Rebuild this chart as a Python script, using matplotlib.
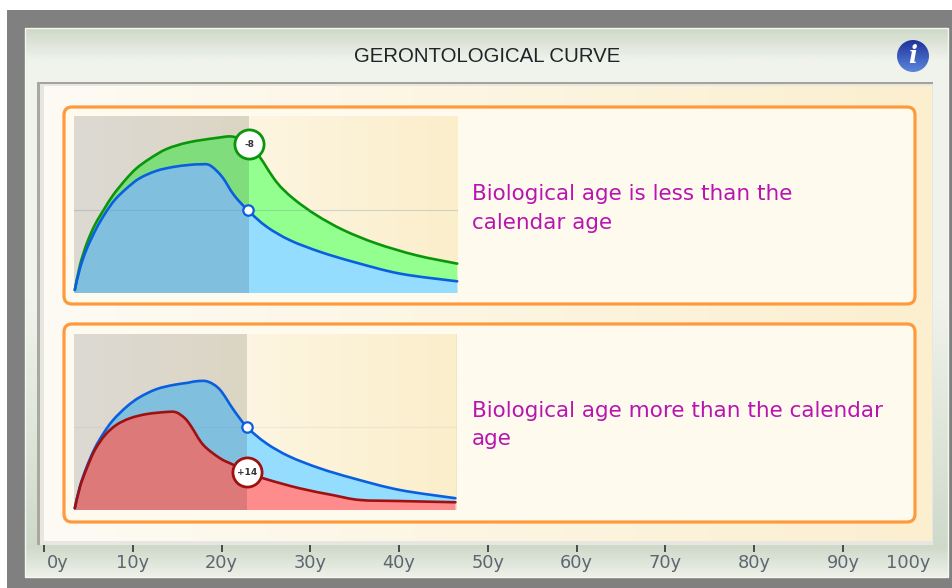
#!/usr/bin/env python3

import matplotlib
matplotlib.use('Agg')
import matplotlib.pyplot as plt
from matplotlib.patches import Circle, FancyBboxPatch, PathPatch, Rectangle
from matplotlib.path import Path
import numpy as np

W, H = 953, 588

TITLE = "GERONTOLOGICAL CURVE"
AGE_TICKS = [0, 10, 20, 30, 40, 50, 60, 70, 80, 90]
AGE_LABELS = ["0y", "10y", "20y", "30y", "40y", "50y", "60y", "70y", "80y", "90y", "100y"]

# top chart
top_green_x = [0.1, 0.75, 1.6, 2.6, 3.7, 4.9, 6.4, 7.8, 9.5, 11.6, 14.3, 17.8, 19.9, 21.8, 23.2, 25.3, 27.4, 30.3, 33.7, 37.8, 42.8, 47.9]
top_green_y = [1.7, 15.8, 28, 38.4, 46.9, 55.4, 63.8, 70.4, 76, 81.4, 85.1, 87.6, 88.3, 84.5, 77, 62.8, 53.4, 44, 35.5, 28, 21.3, 16.6]
top_blue_x = [0.1, 0.75, 1.6, 2.8, 3.9, 5.1, 6.6, 8.2, 10.3, 12.4, 14.3, 15.8, 17, 18.5, 20, 21.8, 24.1, 27, 30.8, 35, 40.8, 47.9]
top_blue_y = [1.7, 14, 25, 36.5, 45, 52.6, 59.2, 64.8, 69, 71.2, 72.3, 72.7, 72.1, 65.7, 55.3, 46.4, 37.4, 29.8, 23.2, 17.5, 10.9, 6.6]

# bottom chart
bot_blue_x = [0.1, 0.75, 1.6, 2.6, 3.7, 4.9, 6.6, 8.2, 10.3, 12.4, 14.3, 15.4, 16.8, 18.3, 20, 21.7, 24.1, 27, 30.8, 35, 40.8, 47.8]
bot_blue_y = [1, 13.5, 24.6, 35, 43.6, 51.1, 58.7, 64, 68.6, 71, 72.3, 73.2, 72.9, 68.3, 56.9, 47, 37.9, 30.4, 23.7, 18, 11.4, 6.7]
bot_red_x = [0.1, 0.75, 1.6, 2.6, 3.9, 5.3, 7, 9.1, 11.6, 12.8, 13.9, 14.7, 16.2, 18.3, 20, 21.7, 24.1, 28.3, 32.4, 35.8, 40.8, 47.8]
bot_red_y = [1, 13.2, 23.7, 34, 42.6, 48.3, 52.1, 54.5, 55.7, 55.5, 52.1, 47.4, 37, 29.4, 25.6, 21.4, 17.5, 12.3, 8.5, 5.7, 5.1, 4.4]

TEXT_COLOR = '#B815B0'
ORANGE = '#FF9A3C'
GREEN, GREEN_FILL = '#0A960A', '#92FF8E'
BLUE, BLUE_FILL = '#0A5FE0', '#94DDFF'
RED, RED_FILL = '#A01010', '#FF8C8C'


def gradient(ax, extent, c0, c1, horizontal=True, zorder=0):
    c0 = np.array(matplotlib.colors.to_rgb(c0))
    c1 = np.array(matplotlib.colors.to_rgb(c1))
    t = np.linspace(0, 1, 256)[:, None]
    img = c0 + (c1 - c0) * t
    img = img[None, :, :] if horizontal else img[:, None, :]
    return ax.imshow(img, extent=extent, aspect='auto', zorder=zorder, interpolation='bilinear')


def curve_verts(xs, ys):
    # bezier pieces through the read points, no extra values
    p = np.column_stack([xs, ys])
    verts, codes = [p[0]], [Path.MOVETO]
    for i in range(len(p) - 1):
        a = p[max(i - 1, 0)]
        d = p[min(i + 2, len(p) - 1)]
        verts += [p[i] + (p[i + 1] - a) / 6, p[i + 1] - (d - p[i]) / 6, p[i + 1]]
        codes += [Path.CURVE4] * 3
    return verts, codes


def draw_curve(ax, xs, ys, line, fill, z):
    verts, codes = curve_verts(xs, ys)
    area = Path(verts + [(xs[-1], 0), (xs[0], 0), verts[0]],
                codes + [Path.LINETO, Path.LINETO, Path.CLOSEPOLY])
    ax.add_patch(PathPatch(area, fc=fill, ec='none', zorder=z))
    ax.add_patch(PathPatch(Path(verts, codes), fc='none', ec=line, lw=1.9, capstyle='round',
                           zorder=z + 3, clip_on=False))


fig = plt.figure(figsize=(W / 100, H / 100), dpi=100)
fig.patch.set_facecolor('white')

bg = fig.add_axes([0, 0, 1, 1])
bg.set_axis_off()

# window frame
bg.add_patch(Rectangle((7, 10), W - 7, H - 10, fc='#808080', ec='none', zorder=0))
gradient(bg, (25, 948, 60, 28), '#CDD8C8', '#F0F3EB', horizontal=False, zorder=1)
gradient(bg, (25, 948, 300, 60), '#F0F3EB', '#F0F3EB', horizontal=False, zorder=1)
gradient(bg, (25, 948, 545, 300), '#F0F3EB', '#CFDACB', horizontal=False, zorder=1)
gradient(bg, (25, 948, 577, 545), '#CDD8C8', '#EEF1E9', horizontal=False, zorder=1)
bg.add_patch(Rectangle((25, 28), 923, 549, fc='none', ec='#F4F6F0', lw=1, zorder=2))

# inner panel
bg.add_patch(Rectangle((37, 82), 896, 463, fc='#E8E6E0', ec='none', zorder=2))
bg.add_patch(Rectangle((37, 82), 896, 2, fc='#A3A39B', ec='none', zorder=3))
bg.add_patch(Rectangle((37, 82), 3, 463, fc='#A8A89F', ec='none', zorder=3))
gradient(bg, (44, 932, 541, 86), '#FDFBF4', '#FBEFCF', zorder=3)

# orange frames
for y0, y1 in [(107, 304), (324, 522)]:
    bg.add_patch(FancyBboxPatch((72, y0 + 8), 835, y1 - y0 - 16, boxstyle='round,pad=8,rounding_size=8',
                                fc='#FFFAEE', ec=ORANGE, lw=2.3, zorder=4))

bg.text(487, 57, TITLE, ha='center', va='center', fontsize=14.7, color='#202428',
        family='Liberation Sans', zorder=5)

# info icon
icon = gradient(bg, (897, 929, 72, 40), '#1E329C', '#5C86DC', horizontal=False, zorder=5)
icon.set_clip_path(Circle((913, 56), 16, transform=bg.transData))
bg.text(913, 56, "i", ha='center', va='center', fontsize=17, style='italic', weight='bold',
        family='DejaVu Serif', color='white', zorder=6)

bg.text(472, 194, "Biological age is less than the", va='center', fontsize=15.5, color=TEXT_COLOR, zorder=5)
bg.text(472, 223, "calendar age", va='center', fontsize=15.5, color=TEXT_COLOR, zorder=5)
bg.text(472, 411, "Biological age more than the calendar", va='center', fontsize=15.5, color=TEXT_COLOR, zorder=5)
bg.text(472, 439, "age", va='center', fontsize=15.5, color=TEXT_COLOR, zorder=5)

bg.set_xlim(0, W)
bg.set_ylim(H, 0)


def chart(px, top_x, top_y, top_col, top_fill, low_x, low_y, low_col, low_fill, split, grid_alpha):
    x0, x1, y0, y1 = px
    ax = fig.add_axes([x0 / W, 1 - y1 / H, (x1 - x0) / W, (y1 - y0) / H])
    ax.set_axis_off()
    gradient(ax, (0, 48, 0, 100), '#FEFBF3', '#FBEECB', zorder=0)
    ax.axhline(47, color='#6E8CA0', lw=0.8, alpha=grid_alpha, zorder=5)
    draw_curve(ax, top_x, top_y, top_col, top_fill, 1)
    draw_curve(ax, low_x, low_y, low_col, low_fill, 2)
    ax.axvspan(0, split, color='black', alpha=0.13, lw=0, zorder=3)
    ax.set_xlim(0, 48)
    ax.set_ylim(0, 100)
    return ax


ax1 = chart((74, 458, 116, 293), top_green_x, top_green_y, GREEN, GREEN_FILL,
            top_blue_x, top_blue_y, BLUE, BLUE_FILL, 21.9, 0.3)
ax1.plot([21.8], [47], 'o', ms=7.5, mfc='white', mec=BLUE, mew=1.6, zorder=6)
ax1.plot([21.9], [84], 'o', ms=21, mfc='white', mec=GREEN, mew=2, zorder=6, clip_on=False)
ax1.text(21.9, 84, "-8", ha='center', va='center', fontsize=6.5, weight='bold', color='#333333', zorder=7)

ax2 = chart((74, 457, 334, 510), bot_blue_x, bot_blue_y, BLUE, BLUE_FILL,
            bot_red_x, bot_red_y, RED, RED_FILL, 21.7, 0.1)
ax2.plot([21.7], [47], 'o', ms=7.5, mfc='white', mec=BLUE, mew=1.6, zorder=6)
ax2.plot([21.7], [21.4], 'o', ms=21, mfc='white', mec=RED, mew=2, zorder=6)
ax2.text(21.7, 21.4, "+14", ha='center', va='center', fontsize=6.5, weight='bold', color='#333333', zorder=7)
ax2.axvline(48, color='#C8C8C0', lw=1, zorder=1)

# age axis at the bottom, 0y at px 44 and 90y at px 843
axis = fig.add_axes([44 / W, 1 - 577 / H, (843 - 44) / W, 32 / H])
axis.patch.set_alpha(0)
for s in axis.spines.values():
    s.set_visible(False)
axis.set_xlim(0, 90)
axis.set_ylim(0, 1)
axis.set_yticks([])
axis.xaxis.tick_top()
axis.set_xticks(AGE_TICKS)
axis.set_xticklabels([])
axis.tick_params(axis='x', direction='in', length=5, width=1.2, color='#333333')
for age, lab in zip(AGE_TICKS[1:], AGE_LABELS[1:-1]):
    axis.text(age, 0.43, lab, ha='center', va='center', fontsize=12.8, color='#5E6670')
bg.text(58, 563, AGE_LABELS[0], ha='center', va='center', fontsize=12.8, color='#5E6670', zorder=5)
bg.text(908, 563, AGE_LABELS[-1], ha='center', va='center', fontsize=12.8, color='#5E6670', zorder=5)

fig.savefig('out.png', dpi=100)
